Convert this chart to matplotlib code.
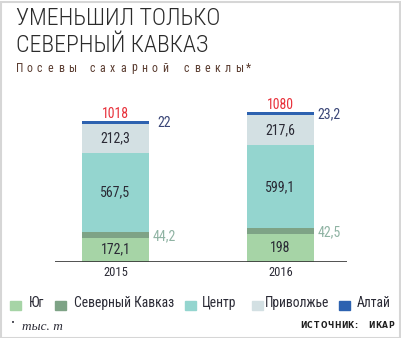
import matplotlib
matplotlib.use("Agg")
import numpy as np
from matplotlib import pyplot as plt
from matplotlib.patches import Rectangle

# данные (тыс. т)
years = ["2015", "2016"]
regions = ["Юг", "Северный Кавказ", "Центр", "Приволжье", "Алтай"]
yug = [172.1, 198]
sev_kavkaz = [44.2, 42.5]
centr = [567.5, 599.1]
privolzhye = [212.3, 217.6]
altai = [22, 23.2]
totals = [1018, 1080]
colors = ["#a6d4a6", "#7ea386", "#94d5cf", "#d3e0e3", "#2d62b0"]

COND = "Roboto Condensed"
W, H = 402, 338
fig = plt.figure(figsize=(W / 100, H / 100), dpi=100)
fig.patch.set_facecolor("white")

# рамка
fig.add_artist(Rectangle((0.5 / W, 0.5 / H), (W - 2) / W, (H - 2) / H, transform=fig.transFigure,
                         fill=False, edgecolor="#d6d6d6", lw=1.5))

def px(x, y):
    return x / W, 1 - y / H

def fmt(v):
    s = f"{v:g}"
    return s.replace(".", ",")

# заголовок
fig.text(*px(16, 25), "УМЕНЬШИЛ ТОЛЬКО", family=COND, fontsize=17.2, weight="light",
         color="#2b2b2b", va="baseline")
fig.text(*px(16, 51.5), "СЕВЕРНЫЙ КАВКАЗ", family=COND, fontsize=17.2, weight="light",
         color="#2b2b2b", va="baseline")

def spaced(x, y, s, step, **kw):
    for ch in s:
        fig.text(*px(x, y), ch, va="baseline", **kw)
        x += step

spaced(16, 71.5, "Посевы сахарной свеклы*", 10.45, family=COND, fontsize=8.6, color="#5a3c30")

# оси
bottom_px, left_px = 261.7, 55
scale = 0.1385  # px на единицу
ymax = 1120
ax = fig.add_axes([left_px / W, (H - bottom_px) / H, (347 - left_px) / W, ymax * scale / H])
ax.set_xlim(-0.367, 1.404)
ax.set_ylim(0, ymax)
ax.axis("off")
ax.axhline(0, color="#333333", lw=1.2)

x = np.arange(len(years))
wdt = 0.406
series = [yug, sev_kavkaz, centr, privolzhye, altai]
base = np.zeros(len(years))
for vals, c in zip(series, colors):
    ax.bar(x, vals, wdt, bottom=base, color=c, edgecolor="none")
    base = base + np.array(vals)

num = dict(family=COND, fontsize=10)
dark = "#2a2a35"
side = wdt / 2 + 0.094
for i in range(len(years)):
    ax.text(x[i], yug[i] / 2, fmt(yug[i]), ha="center", va="center", color=dark, **num)
    b1 = yug[i] + sev_kavkaz[i]
    ax.text(x[i] + side, b1 - sev_kavkaz[i] / 2 - 8, fmt(sev_kavkaz[i]),
            ha="center", va="center", color="#8fb3a3", **num)
    ax.text(x[i], b1 + centr[i] / 2, fmt(centr[i]), ha="center", va="center", color=dark, **num)
    b2 = b1 + centr[i]
    ax.text(x[i], b2 + privolzhye[i] / 2, fmt(privolzhye[i]), ha="center", va="center", color=dark, **num)
    b3 = b2 + privolzhye[i]
    ax.text(x[i] + side, b3 + altai[i] / 2 - 4, fmt(altai[i]), ha="center", va="center", color="#3a4677", **num)
    ax.text(x[i], totals[i] + 52, str(totals[i]), ha="center", va="center", color="#e8303a", **num)
    ax.text(x[i], -78, years[i], ha="center", va="center", color=dark, family=COND, fontsize=9)

# легенда
sq_x = [10, 55, 185, 252, 339]
tx_x = [29, 74, 202, 265, 357]
for sx, tx, c, name in zip(sq_x, tx_x, colors, regions):
    fig.add_artist(Rectangle(px(sx, 310), 11 / W, 9 / H, transform=fig.transFigure, color=c))
    fig.text(*px(tx, 307.3), name, family=COND, fontsize=9.8, color=dark, va="baseline")

fig.text(*px(11, 325), "•", fontsize=5, color=dark, va="baseline")
fig.text(*px(22, 330), "тыс. т", family="Liberation Serif", style="italic", fontsize=9.5, color=dark, va="baseline")
spaced(300, 327.5, "ИСТОЧНИК: ИКАР", 6.8, family="DejaVu Sans", fontsize=5.5, weight="heavy", color="#1e1e1e")

fig.savefig("out.png", dpi=100)
